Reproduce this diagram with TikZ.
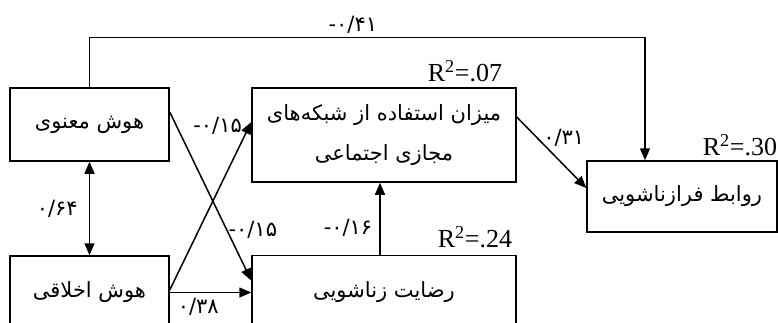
\documentclass[tikz,border=0pt]{standalone}
\usepackage{fontspec}
\setmainfont{Liberation Serif}
\newfontfamily\fa[Script=Arabic]{DejaVu Sans}
\TeXXeTstate=1
\usetikzlibrary{positioning, arrows.meta}

\tikzset{
  box/.style={draw, line width=1.5pt, font=\fa\fontsize{21}{40}\selectfont, align=center},
  coef/.style={on grid=false, font=\fa\fontsize{21}{22}\selectfont, inner sep=1pt},
  rsq/.style={font=\fontsize{26}{28}\selectfont, inner sep=0pt},
}

\begin{document}
\begin{tikzpicture}[>={Triangle[length=12pt,width=10pt]}, line width=1.5pt, on grid, auto]
   \useasboundingbox (0,0) rectangle (778pt,-322pt);
   \node[box, minimum width=159pt, minimum height=73pt] (manavi) at (89.5pt,-124.5pt) {\beginR هوش معنوی\endR};
   \node[box, minimum width=159pt, minimum height=73pt] (akhlaq) [below=168pt of manavi] {\beginR هوش اخلاقی\endR};
   \node[box, minimum width=264pt, minimum height=94pt] (shabake) [below right=10.5pt and 294.5pt of manavi] {\beginR میزان استفاده از شبکه‌های\endR\\\beginR مجازی اجتماعی\endR};
   \node[box, minimum width=264pt, minimum height=74pt] (rezayat) [below=157.5pt of shabake] {\beginR رضایت زناشویی\endR};
   \node[box, minimum width=190pt, minimum height=71pt] (ravabet) [below right=61.5pt and 298pt of shabake] {\beginR روابط فرازناشویی\endR};

   \node[rsq, anchor=base east] (r_1) at ([xshift=-14pt, yshift=6pt]shabake.north east) {R\textsuperscript{2}=.07};
   \node[rsq, anchor=base east] (r_2) at ([xshift=-4pt, yshift=7.5pt]rezayat.north east) {R\textsuperscript{2}=.24};
   \node[rsq, anchor=base east] (r_3) at ([yshift=5pt]ravabet.north east) {R\textsuperscript{2}=.30};

   \path[->]
    ([yshift=12.5pt]manavi.east) edge node[coef, pos=0.7, right] {۰/۱۵-} ([yshift=12pt]rezayat.west)
    ([yshift=2.5pt]akhlaq.east) edge node[coef, pos=0.98, left=6pt] {۰/۱۵-} ([yshift=13pt]shabake.west)
    (akhlaq) edge node[coef, pos=0.35, below=4pt] {۰/۳۸} (rezayat)
    ([xshift=-4pt]rezayat.north) edge node[coef, pos=0.37, left=6pt] {۰/۱۶-} ([xshift=-4pt]shabake.south)
    ([yshift=18pt]shabake.east) edge node[coef, pos=0.3, right=4pt] {۰/۳۱} ([yshift=8.5pt]ravabet.west);
   \draw[<->] (manavi) -- node[coef, left=10pt] {۰/۶۴} (akhlaq);
   \draw[->] (manavi.north) -- ++(0,50pt) -| node[coef, pos=0.237, above=2pt] {۰/۴۱-} ([xshift=-37pt]ravabet.north);
\end{tikzpicture}
\end{document}
